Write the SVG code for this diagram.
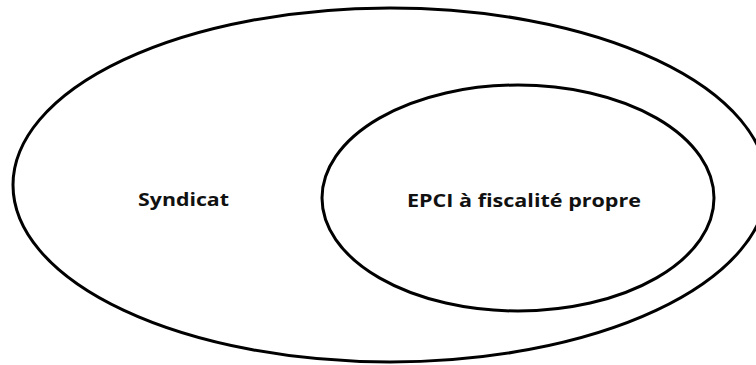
<svg xmlns="http://www.w3.org/2000/svg" width="756" height="365" viewBox="0 0 756 365">
<style>
.set{fill:none;stroke:#000;stroke-width:3}
.lbl{font-family:"Open Sans","Liberation Sans",sans-serif;font-weight:700;font-size:17px;fill:#111}
</style>
<rect width="756" height="365" fill="#fff"/>
<g id="syndicat">
<ellipse class="set" cx="390" cy="185" rx="377" ry="177"/>
<text class="lbl" x="138" y="206" textLength="91" lengthAdjust="spacingAndGlyphs">Syndicat</text>
</g>
<g id="epci">
<ellipse class="set" cx="518" cy="198" rx="196" ry="113"/>
<text class="lbl" x="407" y="207" textLength="234" lengthAdjust="spacingAndGlyphs">EPCI à fiscalité propre</text>
</g>
<g id="connectors"/>
</svg>
